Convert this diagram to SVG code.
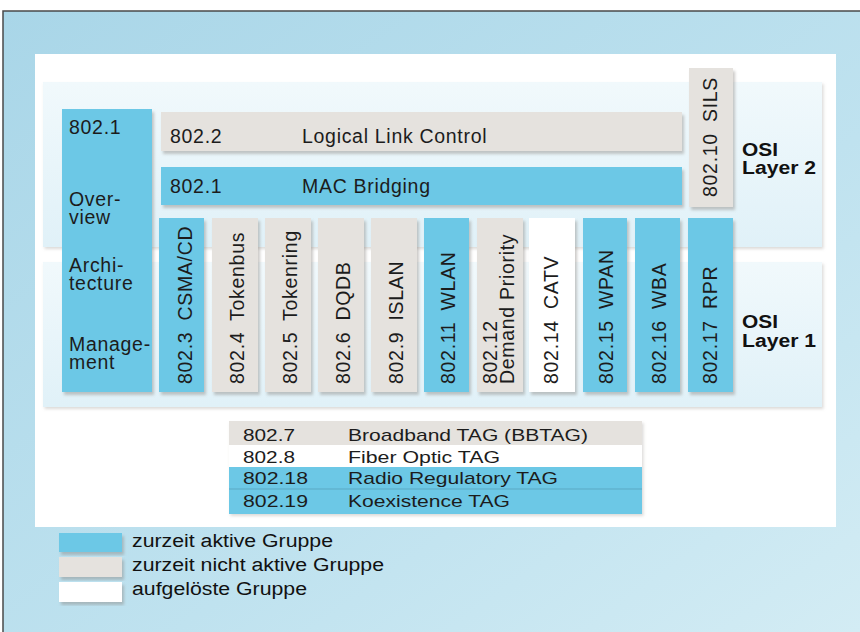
<svg xmlns="http://www.w3.org/2000/svg" width="860" height="632" viewBox="0 0 860 632">
<defs>
<linearGradient id="bg" x1="0" y1="0" x2="1" y2="1">
<stop offset="0" stop-color="#a9d6e8"/>
<stop offset="0.6" stop-color="#bfe2ef"/>
<stop offset="1" stop-color="#d3ecf4"/>
</linearGradient>
<linearGradient id="band" x1="0" y1="0" x2="0" y2="1">
<stop offset="0" stop-color="#f1f9fc"/>
<stop offset="1" stop-color="#e0f1f8"/>
</linearGradient>
<filter id="sh" x="-10%" y="-10%" width="130%" height="130%">
<feDropShadow dx="2" dy="3" stdDeviation="1.5" flood-color="#8a8580" flood-opacity="0.45"/>
</filter>
<filter id="shs" x="-5%" y="-5%" width="110%" height="110%">
<feDropShadow dx="1.5" dy="2" stdDeviation="1.5" flood-color="#9a9590" flood-opacity="0.35"/>
</filter>
</defs>
<style>
.blue{fill:#6cc8e6}
.gray{fill:#e5e2de}
.white{fill:#ffffff}
.box{filter:url(#sh)}
.t{font-family:"Liberation Sans",Arial,Helvetica,sans-serif;font-size:19.5px;letter-spacing:0.7px;fill:#1c1c1c}
.osi{font-family:"Liberation Sans",Arial,Helvetica,sans-serif;font-size:18px;font-weight:bold;fill:#111}
.tab{font-family:"Liberation Sans",Arial,Helvetica,sans-serif;font-size:17px;fill:#1c1c1c}
.leg{font-family:"Liberation Sans",Arial,Helvetica,sans-serif;font-size:18px;fill:#111}
</style>

<!-- background frame -->
<rect x="0" y="0" width="860" height="632" fill="#ffffff"/>
<rect x="3" y="11" width="857" height="621" fill="url(#bg)"/>
<path d="M3,632 V11 H860" fill="none" stroke="#4a4a4a" stroke-width="1.5"/>
<rect x="35" y="54" width="801" height="473" fill="#ffffff"/>

<!-- layer bands -->
<g id="layer2-band">
<rect x="43" y="82" width="779" height="165" fill="url(#band)" filter="url(#shs)"/>
<text class="osi" x="742" y="156" textLength="36" lengthAdjust="spacingAndGlyphs">OSI</text>
<text class="osi" x="742" y="174" textLength="74" lengthAdjust="spacingAndGlyphs">Layer 2</text>
</g>
<g id="layer1-band">
<rect x="43" y="262" width="779" height="145" fill="url(#band)" filter="url(#shs)"/>
<text class="osi" x="742" y="328" textLength="36" lengthAdjust="spacingAndGlyphs">OSI</text>
<text class="osi" x="742" y="347" textLength="74" lengthAdjust="spacingAndGlyphs">Layer 1</text>
</g>

<!-- 802.1 left column -->
<g id="n802-1">
<rect class="blue box" x="62" y="109" width="90" height="283"/>
<text class="t" x="69" y="134">802.1</text>
<text class="t" x="69" y="206">Over-</text>
<text class="t" x="69" y="224">view</text>
<text class="t" x="69" y="272">Archi-</text>
<text class="t" x="69" y="290">tecture</text>
<text class="t" x="69" y="351">Manage-</text>
<text class="t" x="69" y="369">ment</text>
</g>

<g id="n802-2">
<rect class="gray box" x="161" y="112" width="521" height="39"/>
<text class="t" x="170" y="143">802.2</text>
<text class="t" x="302" y="143">Logical Link Control</text>
</g>

<g id="n802-1-mac">
<rect class="blue box" x="161" y="167" width="521" height="38"/>
<text class="t" x="170" y="193">802.1</text>
<text class="t" x="302" y="193">MAC Bridging</text>
</g>

<g id="n802-10">
<rect class="gray box" x="689" y="68" width="44" height="139"/>
<text class="t" transform="translate(717,197) rotate(-90)">802.10 <tspan dx="5">SILS</tspan></text>
</g>

<!-- vertical columns -->
<g id="n802-3">
<rect class="blue box" x="159" y="218" width="45" height="174"/>
<text class="t" transform="translate(192,384) rotate(-90)">802.3 <tspan dx="5">CSMA/CD</tspan></text>
</g>
<g id="n802-4">
<rect class="gray box" x="212" y="218" width="46" height="174"/>
<text class="t" transform="translate(244,384) rotate(-90)">802.4 <tspan dx="5">Tokenbus</tspan></text>
</g>
<g id="n802-5">
<rect class="gray box" x="265" y="218" width="46" height="174"/>
<text class="t" transform="translate(297,384) rotate(-90)">802.5 <tspan dx="5">Tokenring</tspan></text>
</g>
<g id="n802-6">
<rect class="gray box" x="318" y="218" width="46" height="174"/>
<text class="t" transform="translate(350,384) rotate(-90)">802.6 <tspan dx="5">DQDB</tspan></text>
</g>
<g id="n802-9">
<rect class="gray box" x="371" y="218" width="46" height="174"/>
<text class="t" transform="translate(403,384) rotate(-90)">802.9 <tspan dx="5">ISLAN</tspan></text>
</g>
<g id="n802-11">
<rect class="blue box" x="424" y="218" width="45" height="174"/>
<text class="t" transform="translate(455,384) rotate(-90)">802.11 <tspan dx="5">WLAN</tspan></text>
</g>
<g id="n802-12">
<rect class="gray box" x="477" y="218" width="46" height="174"/>
<text class="t" transform="translate(497,384) rotate(-90)">802.12</text>
<text class="t" transform="translate(514,384) rotate(-90)">Demand Priority</text>
</g>
<g id="n802-14">
<rect class="white box" x="529" y="218" width="46" height="174"/>
<text class="t" transform="translate(558,384) rotate(-90)">802.14 <tspan dx="5">CATV</tspan></text>
</g>
<g id="n802-15">
<rect class="blue box" x="583" y="218" width="44" height="174"/>
<text class="t" transform="translate(613,384) rotate(-90)">802.15 <tspan dx="5">WPAN</tspan></text>
</g>
<g id="n802-16">
<rect class="blue box" x="635" y="218" width="45" height="174"/>
<text class="t" transform="translate(666,384) rotate(-90)">802.16 <tspan dx="5">WBA</tspan></text>
</g>
<g id="n802-17">
<rect class="blue box" x="688" y="218" width="45" height="174"/>
<text class="t" transform="translate(717,384) rotate(-90)">802.17 <tspan dx="5">RPR</tspan></text>
</g>

<!-- TAG table -->
<g id="tags">
<g filter="url(#shs)">
<rect class="gray" x="229" y="421" width="413" height="24"/>
<rect class="white" x="229" y="445" width="413" height="22"/>
<rect class="blue" x="229" y="467" width="413" height="22"/>
<rect class="blue" x="229" y="489" width="413" height="25"/>
</g>
<line x1="229" y1="489" x2="642" y2="489" stroke="#5aa9c4" stroke-width="1"/>
<text class="tab" x="243" y="441" textLength="52" lengthAdjust="spacingAndGlyphs">802.7</text>
<text class="tab" x="348" y="441" textLength="240" lengthAdjust="spacingAndGlyphs">Broadband TAG (BBTAG)</text>
<text class="tab" x="243" y="463" textLength="52" lengthAdjust="spacingAndGlyphs">802.8</text>
<text class="tab" x="348" y="463" textLength="152" lengthAdjust="spacingAndGlyphs">Fiber Optic TAG</text>
<text class="tab" x="243" y="484" textLength="65" lengthAdjust="spacingAndGlyphs">802.18</text>
<text class="tab" x="348" y="484" textLength="210" lengthAdjust="spacingAndGlyphs">Radio Regulatory TAG</text>
<text class="tab" x="243" y="507" textLength="65" lengthAdjust="spacingAndGlyphs">802.19</text>
<text class="tab" x="348" y="507" textLength="162" lengthAdjust="spacingAndGlyphs">Koexistence TAG</text>
</g>

<!-- legend -->
<g id="legend">
<rect class="blue box" x="59" y="533" width="63" height="19"/>
<rect class="gray box" x="59" y="557" width="63" height="20"/>
<rect class="white box" x="59" y="582" width="63" height="20"/>
<text class="leg" x="132" y="547" textLength="201" lengthAdjust="spacingAndGlyphs">zurzeit aktive Gruppe</text>
<text class="leg" x="132" y="571" textLength="252" lengthAdjust="spacingAndGlyphs">zurzeit nicht aktive Gruppe</text>
<text class="leg" x="132" y="595" textLength="175" lengthAdjust="spacingAndGlyphs">aufgelöste Gruppe</text>
</g>

<g id="connectors"/>
</svg>
